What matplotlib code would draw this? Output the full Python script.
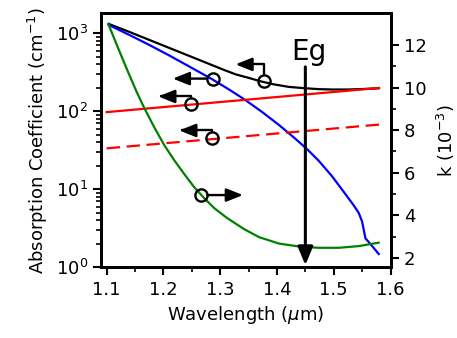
import numpy as np
import matplotlib
matplotlib.use("Agg")
import matplotlib.pyplot as plt
from matplotlib.ticker import FixedLocator, MultipleLocator
from matplotlib.transforms import offset_copy

# ---- data ----
black_x = [1.1035, 1.1399, 1.1750, 1.2102, 1.2453, 1.2805, 1.3069, 1.3279, 1.3508,
           1.3719, 1.3947, 1.4211, 1.4504, 1.4738, 1.4967, 1.5266, 1.5530, 1.5793]
black_y = [1316, 1039, 821, 648, 512, 404, 338, 296, 267,
           241, 221, 205, 197, 192, 190, 190, 193, 197]

blue_x = [1.1035, 1.1399, 1.1750, 1.2102, 1.2453, 1.2863, 1.3156, 1.3438, 1.3737, 1.4035,
          1.4299, 1.4527, 1.4738, 1.4967, 1.5178, 1.5354, 1.5441, 1.5499, 1.5529, 1.5559,
          1.5617, 1.5705, 1.5793]
blue_y = [1278, 951, 708, 519, 375, 256, 190, 140, 98, 66.7,
          46.1, 32.9, 23.1, 14.8, 9.23, 6.20, 4.97, 3.87, 3.01, 2.35,
          2.11, 1.77, 1.48]

red_x = [1.10, 1.58]
red_y = [97.5, 199]

red_dash_x = [1.10, 1.58]
red_dash_y = [33.5, 67.5]

green_x = [1.1030, 1.1188, 1.1364, 1.1522, 1.1663, 1.1838, 1.2014, 1.2190, 1.2366, 1.2542,
           1.2717, 1.2893, 1.3121, 1.3420, 1.3684, 1.4035, 1.4387, 1.4738, 1.5090, 1.5441,
           1.5792]
green_k = [12.99, 11.95, 10.82, 9.84, 9.04, 8.14, 7.30, 6.59, 5.94, 5.32,
           4.81, 4.34, 3.87, 3.35, 2.97, 2.67, 2.53, 2.47, 2.47, 2.55,
           2.71]

eg_x = 1.45

fig = plt.figure(figsize=(4.57, 3.38), dpi=100)
ax = fig.add_axes([0.221, 0.209, 0.6335, 0.7517])
ax2 = ax.twinx()

lw = 1.6
ax.semilogy(black_x, black_y, color='k', lw=lw)
ax.semilogy(blue_x, blue_y, color='b', lw=lw)
ax.semilogy(red_x, red_y, color='r', lw=lw)
ax.semilogy(red_dash_x, red_dash_y, color='r', lw=lw, ls=(0, (6, 3)))
ax2.plot(green_x, green_k, color='g', lw=lw)

ax.set_ylim(1, 1800)
ax2.set_ylim(1.55, 13.5)

fs = 13
ax.set_xlabel(r'Wavelength ($\mu$m)', fontsize=fs)
ax.set_ylabel(r'Absorption Coefficient (cm$^{-1}$)', fontsize=fs)
ax2.set_ylabel(r'k ($10^{-3}$)', fontsize=fs, labelpad=6)

ax.xaxis.set_major_locator(MultipleLocator(0.1))
ax.xaxis.set_minor_locator(MultipleLocator(0.05))
ax2.yaxis.set_major_locator(MultipleLocator(2))
ax2.yaxis.set_minor_locator(FixedLocator([3, 5, 7, 9, 11]))
ax.set_xticks([1.1, 1.2, 1.3, 1.4, 1.5, 1.6])
ax.set_xticklabels(['1.1', '1.2', '1.3', '1.4', '1.5', '1.6'])
ax.set_xlim(1.09, 1.6)

for a in (ax, ax2):
    a.tick_params(which='major', length=6, width=1.5, labelsize=fs)
    a.tick_params(which='minor', length=3.5, width=1.2)
    for s in a.spines.values():
        s.set_linewidth(2)


def circ(a, x, y):
    a.plot([x], [y], 'o', mfc='none', mec='k', ms=8.8, mew=1.7, zorder=5)


def arrow(a, x, y, start, corner_dy, tip_dx):
    props = dict(arrowstyle='-|>,head_length=0.5,head_width=0.2', mutation_scale=20,
                 color='k', lw=1.7, shrinkA=0, shrinkB=0)
    sx, sy = start
    if corner_dy != sy:
        props['connectionstyle'] = 'angle,angleA=90,angleB=0,rad=0'
    tr_tip = offset_copy(a.transData, fig=fig, x=tip_dx, y=corner_dy, units='dots')
    tr_st = offset_copy(a.transData, fig=fig, x=sx, y=sy, units='dots')
    a.annotate('', xy=(x, y), xycoords=tr_tip, xytext=(x, y), textcoords=tr_st,
               arrowprops=props, zorder=6)


circ(ax, 1.378, 245)
arrow(ax, 1.378, 245, (0, 6.5), 16.5, -29)
circ(ax, 1.287, 262)
arrow(ax, 1.287, 262, (-6.5, 0), 0, -40)
circ(ax, 1.249, 124)
arrow(ax, 1.249, 124, (0, 6.5), 7.5, -33)
circ(ax, 1.286, 45.5)
arrow(ax, 1.286, 45.5, (0, 6.5), 7.5, -33)
circ(ax2, 1.266, 4.95)
arrow(ax2, 1.266, 4.95, (6.5, 0), 0, 42)

# Eg arrow
ax2.annotate('', xy=(eg_x, 1.07), xycoords=ax.transData,
             xytext=(eg_x, 370), textcoords=ax.transData,
             arrowprops=dict(arrowstyle='-|>,head_length=0.55,head_width=0.23', mutation_scale=20,
                             color='k', lw=2.2, shrinkA=0, shrinkB=0), zorder=7)
ax.text(1.456, 455, 'Eg', fontsize=20, ha='center', va='baseline')

fig.savefig('out.png', dpi=100)
